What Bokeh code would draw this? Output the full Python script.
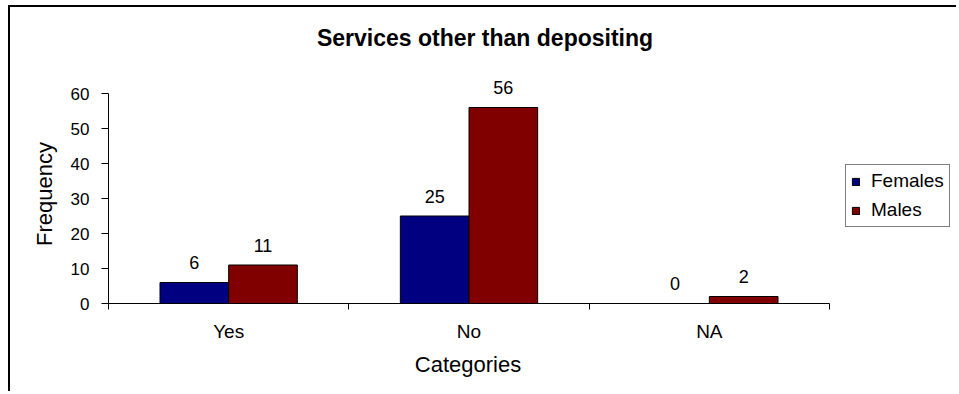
import math
from bokeh.plotting import figure
from bokeh.models import Range1d, FixedTicker, Label, Legend, LegendItem, ColumnDataSource
from bokeh.core.properties import value
from bokeh.embed import file_html
from bokeh.resources import INLINE

# ---- data ----
categories = ["Yes", "No", "NA"]
series_names = ["Females", "Males"]
females = [6, 25, 0]
males = [11, 56, 2]
y_ticks = [0, 10, 20, 30, 40, 50, 60]
y_max = 60
colors = ["#000080", "#800000"]
title_text = "Services other than depositing"
x_title = "Categories"
y_title = "Frequency"

FONT = "Liberation Sans"
bar_w = 1 / 3.5

# ---- layout (pixels) ----
W, H = 948, 386
left, bottom = 98, 90          # position of the axes inside the canvas
px_per_cat = 721 / 3
px_per_unit = 3.5
x_start = -0.5 - left / px_per_cat
x_end = -0.5 + (W - left) / px_per_cat
y_start = -bottom / px_per_unit
y_end = (H - bottom) / px_per_unit

p = figure(width=W, height=H, output_backend="svg", toolbar_location=None,
           x_range=Range1d(x_start, x_end), y_range=Range1d(y_start, y_end),
           min_border_left=0, min_border_right=0, min_border_top=0,
           min_border_bottom=0, tools="", title=None)
p.styles = {"border-top": "2px solid black", "border-left": "2px solid black",
            "margin-left": "8px", "margin-top": "5px"}
p.outline_line_color = None
p.xgrid.visible = False
p.ygrid.visible = False
p.background_fill_color = "white"
p.border_fill_color = "white"

idx = list(range(len(categories)))
renderers = []
for k, (name, vals, col) in enumerate(zip(series_names, [females, males], colors)):
    off = (k - 0.5) * bar_w
    src = ColumnDataSource(dict(x=[i + off for i in idx], top=vals,
                                label=[str(v) for v in vals]))
    r = p.vbar(x="x", top="top", bottom=0, width=bar_w, source=src,
               fill_color=col, line_color="black", line_width=1)
    p.text(x="x", y="top", text="label", source=src, text_align="center",
           text_baseline="alphabetic", y_offset=-20, text_font=value(FONT),
           text_font_size=value("18px"), text_color="black")
    renderers.append(r)

xa = p.xaxis[0]
xa.fixed_location = 0
xa.bounds = (-0.5, len(categories) - 0.5)
xa.ticker = FixedTicker(ticks=idx, minor_ticks=[i - 0.5 for i in range(len(categories) + 1)])
xa.major_label_overrides = {i: c for i, c in zip(idx, categories)}
xa.major_tick_out = 0
xa.major_tick_in = 0
xa.minor_tick_out = 6
xa.minor_tick_in = 0
xa.minor_tick_line_color = "black"
xa.axis_line_color = "black"
xa.major_label_standoff = 11
xa.major_label_text_font = FONT
xa.major_label_text_font_size = "19px"
xa.major_label_text_color = "black"

ya = p.yaxis[0]
ya.fixed_location = -0.5
ya.bounds = (0, y_max)
ya.ticker = FixedTicker(ticks=y_ticks, minor_ticks=[])
ya.major_tick_out = 7
ya.major_tick_in = 0
ya.minor_tick_out = 0
ya.minor_tick_in = 0
ya.major_tick_line_color = "black"
ya.axis_line_color = "black"
ya.major_label_standoff = 12
ya.major_label_text_font = FONT
ya.major_label_text_font_size = "17px"
ya.major_label_text_color = "black"

# titles (screen units, origin at the bottom-left of the canvas)
p.add_layout(Label(x=474.5, y=356, x_units="screen", y_units="screen",
                   text=title_text, text_align="center", text_baseline="middle",
                   text_font=FONT, text_font_size="23px", text_font_style="bold",
                   text_color="black"))
p.add_layout(Label(x=457.5, y=29, x_units="screen", y_units="screen",
                   text=x_title, text_align="center", text_baseline="middle",
                   text_font=FONT, text_font_size="22px", text_color="black"))
p.add_layout(Label(x=34, y=199.5, x_units="screen", y_units="screen",
                   text=y_title, text_align="center", text_baseline="middle",
                   angle=math.pi / 2,
                   text_font=FONT, text_font_size="22px", text_color="black"))

legend = Legend(items=[LegendItem(label=n, renderers=[r]) for n, r in zip(series_names, renderers)],
                location=(835, 166), orientation="vertical",
                border_line_color="black", border_line_width=1,
                background_fill_color="white", background_fill_alpha=1.0,
                padding=5, margin=0, spacing=7, label_height=20,
                glyph_width=9, glyph_height=9, label_standoff=11,
                label_text_font=FONT, label_text_font_size="19px",
                label_text_color="black")
p.add_layout(legend)

open("out.html", "w").write(file_html(p, INLINE))
